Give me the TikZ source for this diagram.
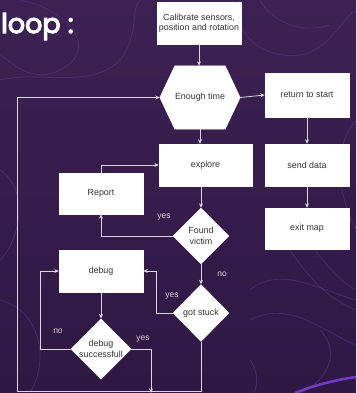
\documentclass[tikz,border=0pt]{standalone}
\usepackage{fontspec}
\setmainfont{Liberation Sans}
\newfontfamily\titlefont[FakeBold=4]{Poppins}
\usetikzlibrary{shapes.geometric,arrows.meta}
\definecolor{bgtop}{HTML}{3C2152}
\definecolor{bgbot}{HTML}{2F1844}
\definecolor{contour}{HTML}{5A3888}
\definecolor{wire}{HTML}{DCD4E2}
\definecolor{boxtext}{HTML}{333333}
\definecolor{labeltext}{HTML}{D6CEDC}
\definecolor{glow}{HTML}{7B3FD0}
\tikzset{
  box/.style={draw=white, fill=white, rectangle, inner sep=2pt, align=center,
    font=\fontsize{8.9}{10.4}\selectfont, text=boxtext},
  decision/.style={diamond, draw=white, fill=white, inner sep=0pt, align=center,
    font=\fontsize{8.9}{10.4}\selectfont, text=boxtext},
  flow/.style={draw=wire, line width=0.8pt, -{Stealth[length=4.5pt,width=4pt]}},
  plain/.style={draw=wire, line width=0.8pt},
  lab/.style={font=\fontsize{8.5}{9.5}\selectfont, text=labeltext, inner sep=0pt},
  contourline/.style={draw=contour, line width=0.7pt, opacity=0.6},
}
\begin{document}
\begin{tikzpicture}[x=1pt,y=-1pt]
\useasboundingbox (0,0) rectangle (356,393);
\shade[top color=bgtop, bottom color=bgbot] (0,0) rectangle (356,393);
% background contour lines
\draw[contourline] (20,0) .. controls (70,10) and (100,50) .. (60,70) .. controls (30,85) and (10,60) .. (0,55);
\draw[contourline] (0,80) .. controls (40,70) and (90,90) .. (120,60) .. controls (140,35) and (130,10) .. (140,0);
\draw[contourline] (240,0) .. controls (230,30) and (260,60) .. (300,55) .. controls (330,50) and (340,20) .. (356,10);
\draw[contourline] (260,0) .. controls (270,20) and (300,35) .. (330,25);
\draw[contourline] (356,120) .. controls (330,150) and (340,200) .. (356,230);
\draw[contourline] (0,170) .. controls (30,190) and (20,240) .. (0,260);
\draw[contourline] (0,300) .. controls (40,310) and (50,360) .. (30,393);
\draw[contourline] (250,290) .. controls (280,265) and (320,290) .. (356,300);
\draw[contourline] (250,320) .. controls (290,300) and (320,330) .. (356,345);
\draw[contourline] (290,250) .. controls (310,280) and (330,300) .. (356,310);
\draw[contourline] (315,250) .. controls (330,270) and (345,285) .. (356,290);
\draw[contourline] (320,330) .. controls (340,350) and (330,380) .. (300,393);
\draw[contourline] (250,360) .. controls (258,370) and (258,385) .. (254,393);
\draw[draw=glow, line width=2.5pt, opacity=0.9] (295,393) .. controls (315,385) and (335,380) .. (356,377);
% title
\node[anchor=base west, inner sep=0pt, text=white, font=\titlefont\fontsize{27}{30}\selectfont] (title) at (1,33) {loop :};
% nodes
\node[box, minimum width=82pt, minimum height=42pt] (cal) at (199,23) {Calibrate sensors,\\position and rotation};
\node[rectangle, minimum width=80pt, minimum height=63pt, inner sep=0pt] (hex) at (200,97.5) {};
\filldraw[draw=white, fill=white] (hex.west) -- ([xshift=15pt]hex.north west) -- ([xshift=-15pt]hex.north east)
  -- (hex.east) -- ([xshift=-15pt]hex.south east) -- ([xshift=15pt]hex.south west) -- cycle;
\node[font=\fontsize{8.9}{10.4}\selectfont, text=boxtext] (hextext) at (hex.center) {Enough time};
\node[box, minimum width=84pt, minimum height=44pt] (ret) at (307,95) {return to start};
\node[box, minimum width=93pt, minimum height=42pt] (explore) at (205.5,165) {explore};
\node[box, minimum width=84pt, minimum height=42pt] (send) at (307,165) {send data};
\node[box, minimum width=84pt, minimum height=41pt] (report) at (101,193.5) {Report};
\node[decision, minimum width=56pt, minimum height=56pt] (found) at (201,236) {Found\\victim};
\node[box, minimum width=84pt, minimum height=41pt] (exit) at (307,228.5) {exit map};
\node[box, minimum width=84pt, minimum height=42pt] (debug) at (101,271) {debug};
\node[decision, minimum width=56pt, minimum height=57pt] (stuck) at (201,313) {got stuck};
\node[decision, minimum width=55pt, minimum height=55pt] (dbs) at (101,349) {debug\\successfull};
\coordinate (join) at (151,391);
\coordinate (corner) at (17,391);
% connectors
\draw[flow] (cal.south) -- (cal.south |- hex.north);
\draw[flow] (hex.east) -- (ret.west);
\draw[flow] (hex.south) -- (hex.south |- explore.north);
\draw[flow] (ret.south) -- (send.north);
\draw[flow] (send.south) -- (exit.north);
\draw[flow] (found.north |- explore.south) -- (found.north);
\draw[flow] (found.west) -| (report.south);
\draw[flow] (report.north) |- (explore.west);
\draw[flow] (found.south) -- (stuck.north);
\draw[flow] (stuck.west) -- ++(-16pt,0) |- (debug.east);
\draw[flow] (debug.south) -- (dbs.north);
\draw[flow] (dbs.west) -- ++(-30pt,0) |- (debug.west);
\draw[flow] (dbs.east) -| ([yshift=-2pt]join);
\draw[plain] (stuck.south) |- (corner);
\draw[flow] (corner) |- (hex.west);
% labels
\node[lab] (l1) at (164,217) {yes};
\node[lab] (l2) at (222,274) {no};
\node[lab] (l3) at (172,296) {yes};
\node[lab] (l4) at (58,331) {no};
\node[lab] (l5) at (143,339) {yes};
\end{tikzpicture}
\end{document}
